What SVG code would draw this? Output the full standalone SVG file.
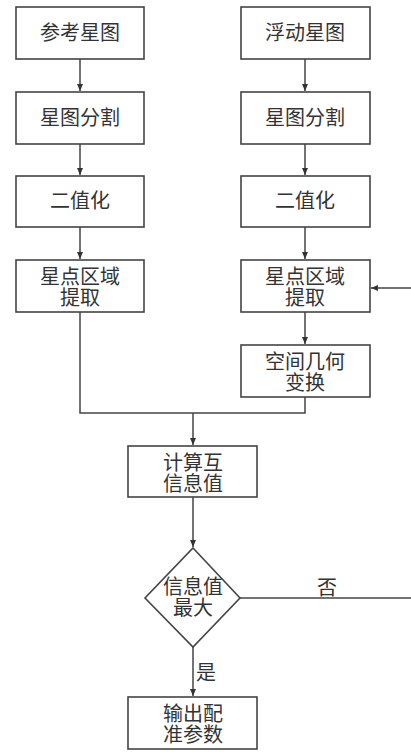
<svg xmlns="http://www.w3.org/2000/svg" width="411" height="752" viewBox="0 0 411 752">
<style>
.box{fill:#fff;stroke:#444;stroke-width:1.6}
.ln{fill:none;stroke:#444;stroke-width:1.5}
.t{font-family:"Noto Sans CJK SC","Noto Sans",sans-serif;font-size:20px;fill:#333;text-anchor:middle}
</style>
<defs>
<marker id="ah" markerWidth="8" markerHeight="8" refX="7" refY="4" orient="auto" markerUnits="userSpaceOnUse">
<path d="M0,1 L7,4 L0,7 Z" fill="#333"/>
</marker>
</defs>
<rect width="411" height="752" fill="#fff"/>
<g id="connectors">
<line class="ln" x1="80" y1="59" x2="80" y2="91" marker-end="url(#ah)"/>
<line class="ln" x1="80" y1="144" x2="80" y2="175" marker-end="url(#ah)"/>
<line class="ln" x1="80" y1="227" x2="80" y2="259" marker-end="url(#ah)"/>
<line class="ln" x1="305" y1="59" x2="305" y2="91" marker-end="url(#ah)"/>
<line class="ln" x1="305" y1="144" x2="305" y2="175" marker-end="url(#ah)"/>
<line class="ln" x1="305" y1="227" x2="305" y2="259" marker-end="url(#ah)"/>
<line class="ln" x1="305" y1="312" x2="305" y2="344" marker-end="url(#ah)"/>
<polyline class="ln" points="80,312 80,413 305,413 305,397"/>
<line class="ln" x1="193" y1="413" x2="193" y2="445" marker-end="url(#ah)"/>
<line class="ln" x1="193" y1="497" x2="193" y2="547" marker-end="url(#ah)"/>
<line class="ln" x1="193" y1="647" x2="193" y2="696" marker-end="url(#ah)"/>
<line class="ln" x1="240" y1="598" x2="411" y2="598"/>
<line class="ln" x1="411" y1="288" x2="371" y2="288" marker-end="url(#ah)"/>
<text class="t" x="327" y="595">否</text>
<text class="t" x="206" y="680">是</text>
</g>
<g id="n1"><rect class="box" x="16" y="7" width="128" height="52"/><text class="t" x="80" y="40">参考星图</text></g>
<g id="n2"><rect class="box" x="16" y="92" width="128" height="52"/><text class="t" x="80" y="125">星图分割</text></g>
<g id="n3"><rect class="box" x="16" y="176" width="128" height="51"/><text class="t" x="80" y="208">二值化</text></g>
<g id="n4"><rect class="box" x="16" y="260" width="128" height="52"/><text class="t" x="80" y="284">星点区域<tspan x="80" dy="21">提取</tspan></text></g>
<g id="m1"><rect class="box" x="241" y="7" width="129" height="52"/><text class="t" x="305" y="40">浮动星图</text></g>
<g id="m2"><rect class="box" x="241" y="92" width="129" height="52"/><text class="t" x="305" y="125">星图分割</text></g>
<g id="m3"><rect class="box" x="241" y="176" width="129" height="51"/><text class="t" x="305" y="208">二值化</text></g>
<g id="m4"><rect class="box" x="241" y="260" width="129" height="52"/><text class="t" x="305" y="284">星点区域<tspan x="305" dy="21">提取</tspan></text></g>
<g id="m5"><rect class="box" x="241" y="345" width="129" height="52"/><text class="t" x="305" y="369">空间几何<tspan x="305" dy="21">变换</tspan></text></g>
<g id="calc"><rect class="box" x="128" y="446" width="129" height="51"/><text class="t" x="193" y="470">计算互<tspan x="193" dy="21">信息值</tspan></text></g>
<g id="dec"><polygon class="box" points="193,548 240,598 193,647 145,598"/><text class="t" x="193" y="594">信息值<tspan x="193" dy="21">最大</tspan></text></g>
<g id="out"><rect class="box" x="128" y="697" width="129" height="52"/><text class="t" x="193" y="721">输出配<tspan x="193" dy="21">准参数</tspan></text></g>
</svg>
